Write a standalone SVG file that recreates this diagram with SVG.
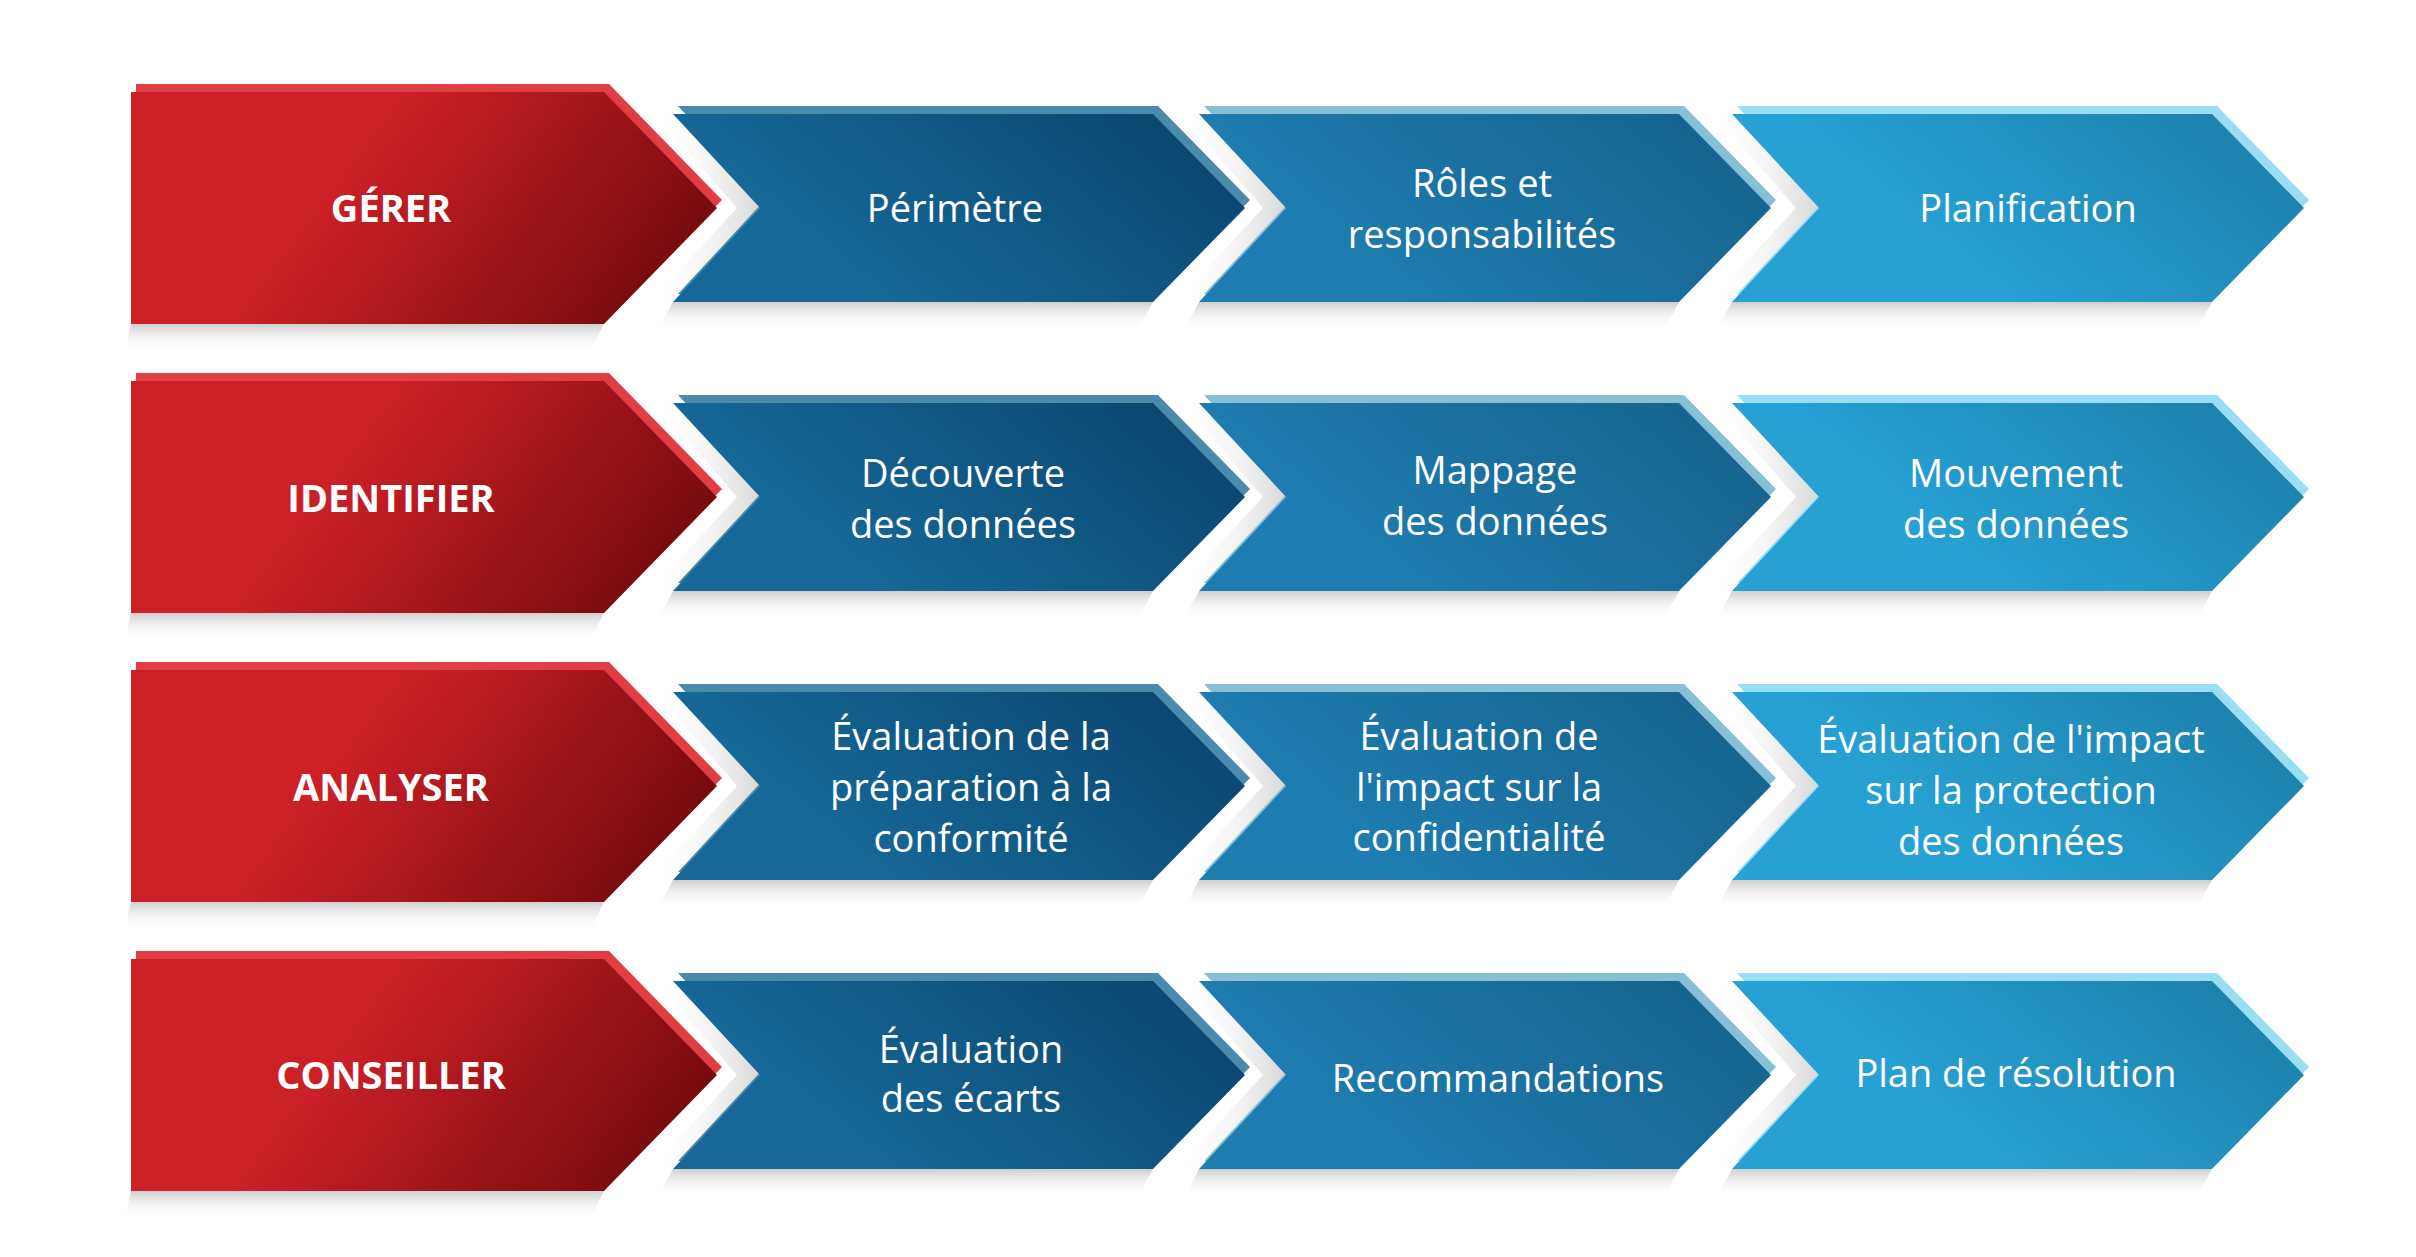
<svg xmlns="http://www.w3.org/2000/svg" width="2416" height="1257" viewBox="0 0 2416 1257">
<defs>
<linearGradient id="gr" x1="0" y1="0.3" x2="1" y2="0.6"><stop offset="0.35" stop-color="#cc2027"/><stop offset="1" stop-color="#730a0d"/></linearGradient>
<linearGradient id="gb1" x1="0" y1="0.7" x2="1" y2="0.3"><stop offset="0.2" stop-color="#176898"/><stop offset="1" stop-color="#0a4670"/></linearGradient>
<linearGradient id="gb2" x1="0" y1="0.7" x2="1" y2="0.3"><stop offset="0.2" stop-color="#1e7db0"/><stop offset="1" stop-color="#16628d"/></linearGradient>
<linearGradient id="gb3" x1="0" y1="0.7" x2="1" y2="0.3"><stop offset="0.3" stop-color="#27a1d4"/><stop offset="1" stop-color="#1d80ab"/></linearGradient>
<linearGradient id="gs" x1="0" y1="0" x2="0" y2="1"><stop offset="0" stop-color="#cfcfcf"/><stop offset="1" stop-color="#ffffff" stop-opacity="0"/></linearGradient>
<linearGradient id="gsl" x1="1" y1="0" x2="0" y2="0"><stop offset="0" stop-color="#d8d8d8"/><stop offset="1" stop-color="#ffffff" stop-opacity="0"/></linearGradient>
<path id="red" d="M131,92 L604,92 L717,208 L604,324 L131,324 Z"/>
<path id="redsh" d="M131,324 L604,324 L590,352 L125,352 Z"/>
<path id="blue" d="M673,114 L1153,114 L1245,208 L1153,302 L673,302 L760,208 Z"/>
<path id="bluesh" d="M673,302 L1153,302 L1138,330 L658,330 Z"/>
<path id="bluesl" d="M673,114 L760,208 L673,302 L650,302 L737,208 L655,114 Z"/>
<g id="row">
<use href="#redsh" fill="url(#gs)"/>
<use href="#red" fill="#e03e44" transform="translate(5,-8)"/>
<use href="#red" fill="url(#gr)"/>
<g>
<use href="#bluesh" fill="url(#gs)"/><use href="#bluesl" fill="url(#gsl)"/>
<use href="#blue" fill="#4a8aab" transform="translate(5,-8)"/>
<use href="#blue" fill="url(#gb1)"/>
</g>
<g transform="translate(526,0)">
<use href="#bluesh" fill="url(#gs)"/><use href="#bluesl" fill="url(#gsl)"/>
<use href="#blue" fill="#86bfd6" transform="translate(5,-8)"/>
<use href="#blue" fill="url(#gb2)"/>
</g>
<g transform="translate(1059,0)">
<use href="#bluesh" fill="url(#gs)"/><use href="#bluesl" fill="url(#gsl)"/>
<use href="#blue" fill="#9adef5" transform="translate(5,-8)"/>
<use href="#blue" fill="url(#gb3)"/>
</g>
</g>
</defs>
<style>
text{font-family:"Open Sans","Noto Sans",sans-serif;fill:#fff;text-anchor:middle;dominant-baseline:central;font-size:38px}
.h{font-weight:bold;font-size:38px}
</style>
<rect width="2416" height="1257" fill="#fff"/>
<g id="r1"><use href="#row"/>
<text class="h" x="391" y="207">GÉRER</text>
<text x="955" y="207">Périmètre</text>
<text x="1482" y="182">Rôles et</text><text x="1482" y="233">responsabilités</text>
<text x="2028" y="207">Planification</text></g>
<g id="r2" transform="translate(0,289)"><use href="#row"/>
<text class="h" x="391" y="208">IDENTIFIER</text>
<text x="963" y="183">Découverte</text><text x="963" y="234">des données</text>
<text x="1495" y="180">Mappage</text><text x="1495" y="231">des données</text>
<text x="2016" y="183">Mouvement</text><text x="2016" y="234">des données</text></g>
<g id="r3" transform="translate(0,578)"><use href="#row"/>
<text class="h" x="391" y="208">ANALYSER</text>
<text x="971" y="157">Évaluation de la</text><text x="971" y="208">préparation à la</text><text x="971" y="259">conformité</text>
<text x="1479" y="157">Évaluation de</text><text x="1479" y="208">l'impact sur la</text><text x="1479" y="258">confidentialité</text>
<text x="2011" y="160">Évaluation de l'impact</text><text x="2011" y="211">sur la protection</text><text x="2011" y="262">des données</text></g>
<g id="r4" transform="translate(0,867)"><use href="#row"/>
<text class="h" x="391" y="207">CONSEILLER</text>
<text x="971" y="181">Évaluation</text><text x="971" y="230">des écarts</text>
<text x="1498" y="210">Recommandations</text>
<text x="2016" y="205">Plan de résolution</text></g>
</svg>
